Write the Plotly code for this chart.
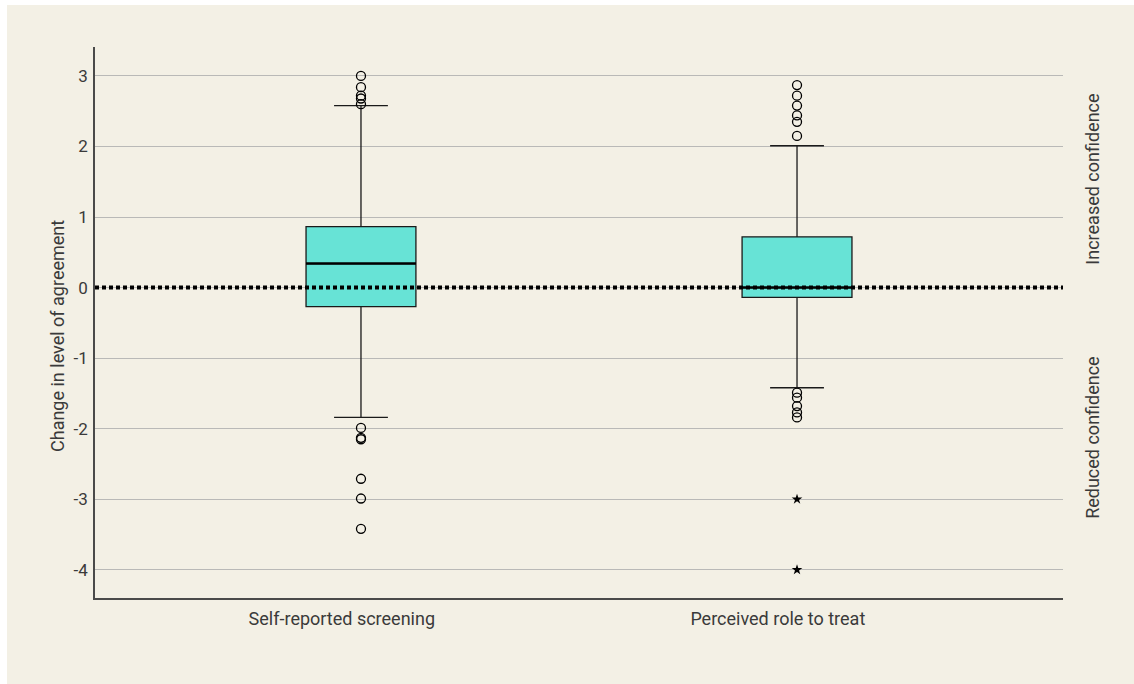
import plotly.graph_objects as go

# Summary statistics for each measure (change in level of agreement)
categories = ["Self-reported screening", "Perceived role to treat"]
q1 = [-0.27, -0.14]
median = [0.34, 0.0]
q3 = [0.864, 0.72]
lower_whisker = [-1.84, -1.42]
upper_whisker = [2.58, 2.01]

# Outliers (circles) and extreme values (stars)
outliers = [
    [3.0, 2.84, 2.72, 2.68, 2.6, -1.99, -2.13, -2.15, -2.71, -2.99, -3.42],
    [2.87, 2.72, 2.58, 2.44, 2.35, 2.15, -1.49, -1.56, -1.68, -1.77, -1.84],
]
extremes = [
    [],
    [-3.0, -4.0],
]

y_ticks = [-4, -3, -2, -1, 0, 1, 2, 3]

BG = "#f3f0e5"
FILL = "#67e3d6"
TEXT = "#3a3a3a"
FS = 18

fig = go.Figure()

for i, name in enumerate(categories):
    fig.add_trace(go.Box(
        x=[i],
        q1=[q1[i]], median=[median[i]], q3=[q3[i]],
        lowerfence=[lower_whisker[i]], upperfence=[upper_whisker[i]],
        width=0.252,
        whiskerwidth=0.49,
        fillcolor=FILL,
        line=dict(color="#1a1a1a", width=1.3),
        boxpoints=False,
        hoverinfo="skip",
        showlegend=False,
    ))

# Heavier median lines drawn over the boxes
for i in range(len(categories)):
    fig.add_trace(go.Scatter(
        x=[i - 0.126, i + 0.126], y=[median[i], median[i]],
        mode="lines", line=dict(color="black", width=2.5),
        showlegend=False, hoverinfo="skip",
    ))

# Reference line at zero change
fig.add_trace(go.Scatter(
    x=[-0.61, 1.61], y=[0, 0], mode="lines",
    line=dict(color="black", width=4, dash="4px,3px"),
    showlegend=False, hoverinfo="skip",
))

for i in range(len(categories)):
    if outliers[i]:
        fig.add_trace(go.Scatter(
            x=[i] * len(outliers[i]), y=outliers[i], mode="markers",
            marker=dict(symbol="circle-open", size=9, color="black",
                        line=dict(width=1.3, color="black")),
            showlegend=False, hoverinfo="skip",
        ))
    if extremes[i]:
        fig.add_trace(go.Scatter(
            x=[i] * len(extremes[i]), y=extremes[i], mode="markers",
            marker=dict(symbol="star", size=8, color="black",
                        line=dict(width=0)),
            showlegend=False, hoverinfo="skip",
        ))

# Category labels sit slightly left of the box centres
label_shift = -0.044

fig.update_layout(
    width=1134, height=684,
    margin=dict(l=95, r=71, t=47, b=86),
    paper_bgcolor="white",
    plot_bgcolor=BG,
    font=dict(family="Roboto", size=FS, color=TEXT),
    xaxis=dict(
        range=[-0.61, 1.61],
        tickvals=[0 + label_shift, 1 + label_shift], ticktext=categories,
        showgrid=False, zeroline=False,
        showline=True, linecolor="#4a4a4a", linewidth=1.5,
        ticks="", ticklabelstandoff=4,
        tickfont=dict(size=FS, color=TEXT),
    ),
    yaxis=dict(
        range=[-4.4, 3.41],
        tickvals=y_ticks, ticktext=[str(v) for v in y_ticks],
        showgrid=True, gridcolor="#b9b9b7", gridwidth=1,
        zeroline=False,
        showline=True, linecolor="#4a4a4a", linewidth=1.5,
        ticks="", ticklabelstandoff=2,
        tickfont=dict(size=FS - 1, color=TEXT),
    ),
    shapes=[dict(
        type="rect", xref="paper", yref="paper",
        x0=(7 - 95) / 968, x1=(1134 - 95) / 968,
        y0=-(684 - 598) / 551, y1=1 + (47 - 5) / 551,
        fillcolor=BG, line=dict(width=0), layer="below",
    )],
    annotations=[
        dict(text="Change in level of agreement", xref="paper", yref="paper",
             x=(57 - 95) / 968, y=(598 - 336) / 551, textangle=-90,
             showarrow=False, xanchor="center", yanchor="middle",
             font=dict(size=FS, color=TEXT)),
        dict(text="Increased confidence", xref="paper", yref="y",
             x=(1093 - 95) / 968, y=1.53, textangle=-90, showarrow=False,
             xanchor="center", yanchor="middle",
             font=dict(size=FS, color=TEXT)),
        dict(text="Reduced confidence", xref="paper", yref="y",
             x=(1093 - 95) / 968, y=-2.13, textangle=-90, showarrow=False,
             xanchor="center", yanchor="middle",
             font=dict(size=FS, color=TEXT)),
    ],
)

fig.write_html("out.html")
